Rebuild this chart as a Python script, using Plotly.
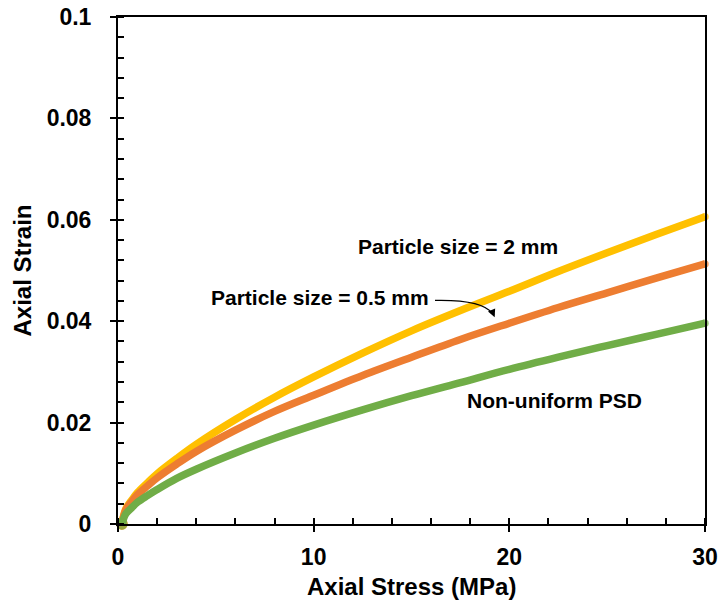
import plotly.graph_objects as go

# Axial stress (MPa) at which the strain of each specimen is sampled
stress = [0.2, 0.4, 0.7, 1, 1.5, 2, 3, 4, 6, 8, 10, 12.5, 15, 17.5, 20, 22.5, 25, 27.5, 30]

# Axial strain for each particle-size distribution
strain_2mm = [0.0, 0.0030, 0.0047, 0.0062, 0.0081, 0.0099, 0.0129, 0.0157, 0.0206,
              0.0250, 0.0290, 0.0337, 0.0381, 0.0421, 0.0459, 0.0498, 0.0535,
              0.0571, 0.0606]
strain_05mm = [0.0, 0.0028, 0.0044, 0.0058, 0.0075, 0.0091, 0.0118, 0.0143, 0.0185,
               0.0222, 0.0254, 0.0293, 0.0329, 0.0364, 0.0396, 0.0427, 0.0456,
               0.0485, 0.0513]
strain_psd = [0.0, 0.0020, 0.0032, 0.0043, 0.0056, 0.0068, 0.0090, 0.0108, 0.0140,
              0.0169, 0.0195, 0.0225, 0.0253, 0.0279, 0.0305, 0.0329, 0.0352,
              0.0374, 0.0396]

series = [
    ("Particle size = 2 mm", strain_2mm, "#FFC000"),
    ("Particle size = 0.5 mm", strain_05mm, "#ED7D31"),
    ("Non-uniform PSD", strain_psd, "#70AD47"),
]

FONT = "Liberation Sans, Arial, sans-serif"
LW = 7.5

fig = go.Figure()
for name, ys, color in series:
    # round the line ends with a dot at the first and last sample
    sizes = [LW + 4] + [0] * (len(ys) - 2) + [LW]
    fig.add_trace(go.Scatter(
        x=stress, y=ys, name=name, mode="lines+markers",
        line=dict(color=color, width=LW, shape="spline", smoothing=1.0),
        marker=dict(color=color, size=sizes, line=dict(width=0)),
        showlegend=False, hoverinfo="skip", cliponaxis=False,
    ))

# overlay axis only used to draw the inward half of the major x ticks
fig.add_trace(go.Scatter(x=[0, 30], y=[0, 0], xaxis="x2", mode="none",
                         showlegend=False, hoverinfo="skip"))

axis_font = dict(family=FONT, size=24, color="#000000")
tick_font = dict(family=FONT, size=23, color="#000000", weight="bold")

fig.update_layout(
    width=719, height=603,
    margin=dict(l=118, r=14, t=17, b=79),
    paper_bgcolor="white", plot_bgcolor="white",
    font=dict(family=FONT, color="#000000"),
    xaxis=dict(
        range=[0, 30], dtick=10, tick0=0, automargin=False,
        showgrid=False, zeroline=False,
        showline=True, linecolor="#000000", linewidth=2, mirror=True,
        ticks="outside", ticklen=6, tickwidth=2, tickcolor="#000000",
        minor=dict(dtick=2, ticks="inside", ticklen=6, tickwidth=1.5,
                   tickcolor="#000000", showgrid=False),
        tickfont=tick_font, ticklabelstandoff=5,
    ),
    xaxis2=dict(
        overlaying="x", matches="x", range=[0, 30], dtick=10, tick0=0,
        automargin=False,
        showgrid=False, zeroline=False, showline=False, showticklabels=False,
        ticks="inside", ticklen=6, tickwidth=2, tickcolor="#000000",
        side="bottom", anchor="y",
    ),
    yaxis=dict(
        range=[0, 0.1], dtick=0.02, tick0=0, automargin=False,
        showgrid=False, zeroline=False,
        showline=True, linecolor="#000000", linewidth=2, mirror=True,
        ticks="outside", ticklen=6, tickwidth=2, tickcolor="#000000",
        minor=dict(dtick=0.004, ticks="inside", ticklen=6, tickwidth=1.5,
                   tickcolor="#000000", showgrid=False),
        tickfont=tick_font, ticklabelstandoff=14,
        title=dict(text="<b>Axial Strain</b>", font=axis_font, standoff=8),
    ),
)

# x-axis title placed just under the tick labels
fig.add_annotation(xref="paper", yref="paper", x=0.5, y=-0.124,
                   xanchor="center", yanchor="middle", showarrow=False,
                   text="<b>Axial Stress (MPa)</b>", font=axis_font)

label_font = dict(family=FONT, size=21, color="#000000")
fig.add_annotation(x=17.4, y=0.0548, text="<b>Particle size = 2 mm</b>",
                   showarrow=False, font=label_font)
fig.add_annotation(x=10.3, y=0.0447, text="<b>Particle size = 0.5 mm</b>",
                   showarrow=False, font=label_font)
fig.add_annotation(x=22.3, y=0.0244, text="<b>Non-uniform PSD</b>",
                   showarrow=False, font=label_font)

# curved leader from the 0.5 mm label down to its curve
fig.add_shape(type="path", xref="x", yref="y",
              path="M 16.2,0.0441 Q 18.6,0.0443 19.15,0.0415",
              line=dict(color="#000000", width=1.2))
fig.add_annotation(x=19.25, y=0.0408, ax=-3, ay=-7, axref="pixel", ayref="pixel",
                   text="", showarrow=True, arrowhead=2, arrowsize=1.3,
                   arrowwidth=1.2, arrowcolor="#000000")

fig.write_html("out.html")
